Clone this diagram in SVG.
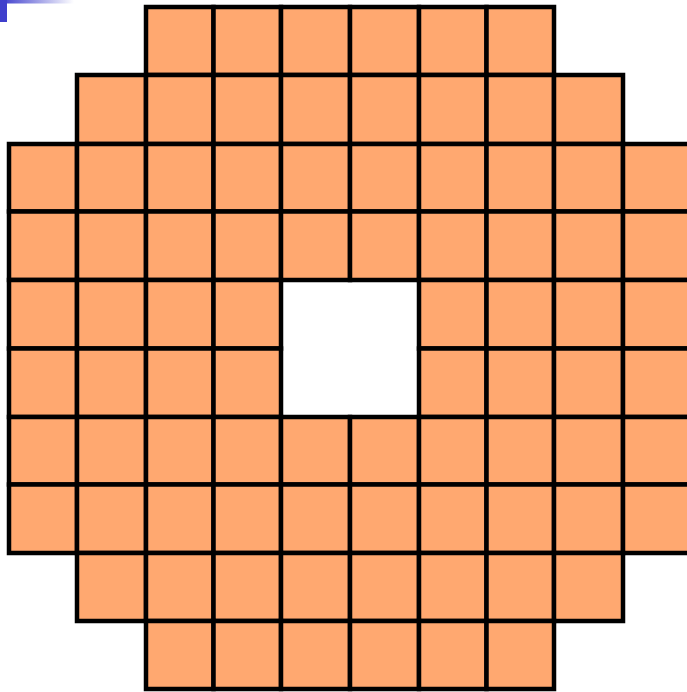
<svg xmlns="http://www.w3.org/2000/svg" width="687" height="692" viewBox="0 0 687 692">
<style>
.t{fill:#FFA870;stroke:#000;stroke-width:4.5}
</style>
<defs>
<linearGradient id="g" x1="0" y1="0" x2="1" y2="0">
<stop offset="0" stop-color="#3A3ACC"/>
<stop offset="1" stop-color="#FFFFFF"/>
</linearGradient>
</defs>
<rect x="0" y="0" width="687" height="692" fill="#fff"/>
<rect x="0" y="0" width="74" height="3.5" fill="url(#g)"/>
<rect x="0" y="0" width="7" height="22" fill="#3F3FCC"/>
<g id="tiles">
<!-- row 0 -->
<rect class="t" x="146" y="7" width="67.5" height="68"/>
<rect class="t" x="213.5" y="7" width="67.5" height="68"/>
<rect class="t" x="281" y="7" width="69" height="68"/>
<rect class="t" x="350" y="7" width="69" height="68"/>
<rect class="t" x="419" y="7" width="67.5" height="68"/>
<rect class="t" x="486.5" y="7" width="67.5" height="68"/>
<!-- row 1 -->
<rect class="t" x="77" y="75" width="69" height="69"/>
<rect class="t" x="146" y="75" width="67.5" height="69"/>
<rect class="t" x="213.5" y="75" width="67.5" height="69"/>
<rect class="t" x="281" y="75" width="69" height="69"/>
<rect class="t" x="350" y="75" width="69" height="69"/>
<rect class="t" x="419" y="75" width="67.5" height="69"/>
<rect class="t" x="486.5" y="75" width="67.5" height="69"/>
<rect class="t" x="554" y="75" width="69" height="69"/>
<!-- row 2 -->
<rect class="t" x="9" y="144" width="68" height="67.5"/>
<rect class="t" x="77" y="144" width="69" height="67.5"/>
<rect class="t" x="146" y="144" width="67.5" height="67.5"/>
<rect class="t" x="213.5" y="144" width="67.5" height="67.5"/>
<rect class="t" x="281" y="144" width="69" height="67.5"/>
<rect class="t" x="350" y="144" width="69" height="67.5"/>
<rect class="t" x="419" y="144" width="67.5" height="67.5"/>
<rect class="t" x="486.5" y="144" width="67.5" height="67.5"/>
<rect class="t" x="554" y="144" width="69" height="67.5"/>
<rect class="t" x="623" y="144" width="68" height="67.5"/>
<!-- row 3 -->
<rect class="t" x="9" y="211.5" width="68" height="68.5"/>
<rect class="t" x="77" y="211.5" width="69" height="68.5"/>
<rect class="t" x="146" y="211.5" width="67.5" height="68.5"/>
<rect class="t" x="213.5" y="211.5" width="67.5" height="68.5"/>
<rect class="t" x="281" y="211.5" width="69" height="68.5"/>
<rect class="t" x="350" y="211.5" width="69" height="68.5"/>
<rect class="t" x="419" y="211.5" width="67.5" height="68.5"/>
<rect class="t" x="486.5" y="211.5" width="67.5" height="68.5"/>
<rect class="t" x="554" y="211.5" width="69" height="68.5"/>
<rect class="t" x="623" y="211.5" width="68" height="68.5"/>
<!-- row 4 -->
<rect class="t" x="9" y="280" width="68" height="68.5"/>
<rect class="t" x="77" y="280" width="69" height="68.5"/>
<rect class="t" x="146" y="280" width="67.5" height="68.5"/>
<rect class="t" x="213.5" y="280" width="67.5" height="68.5"/>
<rect class="t" x="419" y="280" width="67.5" height="68.5"/>
<rect class="t" x="486.5" y="280" width="67.5" height="68.5"/>
<rect class="t" x="554" y="280" width="69" height="68.5"/>
<rect class="t" x="623" y="280" width="68" height="68.5"/>
<!-- row 5 -->
<rect class="t" x="9" y="348.5" width="68" height="68.5"/>
<rect class="t" x="77" y="348.5" width="69" height="68.5"/>
<rect class="t" x="146" y="348.5" width="67.5" height="68.5"/>
<rect class="t" x="213.5" y="348.5" width="67.5" height="68.5"/>
<rect class="t" x="419" y="348.5" width="67.5" height="68.5"/>
<rect class="t" x="486.5" y="348.5" width="67.5" height="68.5"/>
<rect class="t" x="554" y="348.5" width="69" height="68.5"/>
<rect class="t" x="623" y="348.5" width="68" height="68.5"/>
<!-- row 6 -->
<rect class="t" x="9" y="417" width="68" height="67.5"/>
<rect class="t" x="77" y="417" width="69" height="67.5"/>
<rect class="t" x="146" y="417" width="67.5" height="67.5"/>
<rect class="t" x="213.5" y="417" width="67.5" height="67.5"/>
<rect class="t" x="281" y="417" width="69" height="67.5"/>
<rect class="t" x="350" y="417" width="69" height="67.5"/>
<rect class="t" x="419" y="417" width="67.5" height="67.5"/>
<rect class="t" x="486.5" y="417" width="67.5" height="67.5"/>
<rect class="t" x="554" y="417" width="69" height="67.5"/>
<rect class="t" x="623" y="417" width="68" height="67.5"/>
<!-- row 7 -->
<rect class="t" x="9" y="484.5" width="68" height="68.5"/>
<rect class="t" x="77" y="484.5" width="69" height="68.5"/>
<rect class="t" x="146" y="484.5" width="67.5" height="68.5"/>
<rect class="t" x="213.5" y="484.5" width="67.5" height="68.5"/>
<rect class="t" x="281" y="484.5" width="69" height="68.5"/>
<rect class="t" x="350" y="484.5" width="69" height="68.5"/>
<rect class="t" x="419" y="484.5" width="67.5" height="68.5"/>
<rect class="t" x="486.5" y="484.5" width="67.5" height="68.5"/>
<rect class="t" x="554" y="484.5" width="69" height="68.5"/>
<rect class="t" x="623" y="484.5" width="68" height="68.5"/>
<!-- row 8 -->
<rect class="t" x="77" y="553" width="69" height="68"/>
<rect class="t" x="146" y="553" width="67.5" height="68"/>
<rect class="t" x="213.5" y="553" width="67.5" height="68"/>
<rect class="t" x="281" y="553" width="69" height="68"/>
<rect class="t" x="350" y="553" width="69" height="68"/>
<rect class="t" x="419" y="553" width="67.5" height="68"/>
<rect class="t" x="486.5" y="553" width="67.5" height="68"/>
<rect class="t" x="554" y="553" width="69" height="68"/>
<!-- row 9 -->
<rect class="t" x="146" y="621" width="67.5" height="68"/>
<rect class="t" x="213.5" y="621" width="67.5" height="68"/>
<rect class="t" x="281" y="621" width="69" height="68"/>
<rect class="t" x="350" y="621" width="69" height="68"/>
<rect class="t" x="419" y="621" width="67.5" height="68"/>
<rect class="t" x="486.5" y="621" width="67.5" height="68"/>
</g>
</svg>
